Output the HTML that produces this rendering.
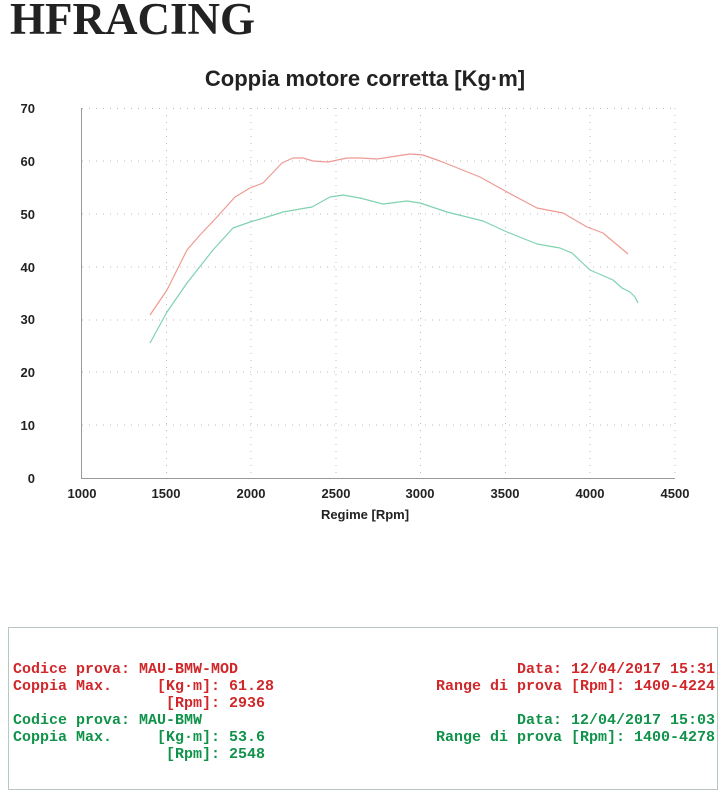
<!DOCTYPE html>
<html><head><meta charset="utf-8"><style>
body{margin:0;width:726px;height:800px;background:#fff;overflow:hidden;position:relative;font-family:"Liberation Sans",sans-serif}
.h{position:absolute;left:10px;top:-7px;font:bold 45px "Liberation Serif",serif;color:#222}
.box{position:absolute;left:8px;top:627px;width:710px;height:163px;border:1px solid #b8c8c0;box-sizing:border-box}
.t{position:absolute;font:bold 15px "Liberation Mono",monospace;white-space:pre;line-height:17px}
.r{color:#d0272a}.g{color:#10924a}
</style></head><body>
<div class="h">HFRACING</div>
<svg width="726" height="600" style="position:absolute;left:0;top:0" font-family="Liberation Sans, sans-serif">
<text x="365" y="86" text-anchor="middle" font-size="22" font-weight="bold" fill="#222">Coppia motore corretta [Kg·m]</text>
<g stroke="#bbb" stroke-dasharray="1,6" stroke-width="1">
<line x1="82" y1="108.5" x2="675" y2="108.5"/><line x1="82" y1="161" x2="675" y2="161"/><line x1="82" y1="214" x2="675" y2="214"/><line x1="82" y1="267" x2="675" y2="267"/><line x1="82" y1="320" x2="675" y2="320"/><line x1="82" y1="372" x2="675" y2="372"/><line x1="82" y1="425" x2="675" y2="425"/>
<line x1="166.5" y1="108" x2="166.5" y2="478"/><line x1="251" y1="108" x2="251" y2="478"/><line x1="336" y1="108" x2="336" y2="478"/><line x1="420.5" y1="108" x2="420.5" y2="478"/><line x1="505.5" y1="108" x2="505.5" y2="478"/><line x1="590" y1="108" x2="590" y2="478"/><line x1="675" y1="108" x2="675" y2="478"/>
</g>
<path d="M81.5 108V478.5H675" fill="none" stroke="#999" stroke-width="1"/>
<g font-size="13" font-weight="bold" fill="#222" text-anchor="end">
<text x="35" y="113">70</text><text x="35" y="166">60</text><text x="35" y="219">50</text><text x="35" y="272">40</text><text x="35" y="324">30</text><text x="35" y="377">20</text><text x="35" y="430">10</text><text x="35" y="483">0</text>
</g>
<g font-size="13" font-weight="bold" fill="#222" text-anchor="middle">
<text x="82" y="498">1000</text><text x="166" y="498">1500</text><text x="251" y="498">2000</text><text x="336" y="498">2500</text><text x="420" y="498">3000</text><text x="505" y="498">3500</text><text x="590" y="498">4000</text><text x="675" y="498">4500</text>
<text x="365" y="519">Regime [Rpm]</text>
</g>
<polyline fill="none" stroke="#ee9a92" stroke-width="1.2" stroke-linejoin="round" points="150,315 167,290 187,250 200,235 217,217 235,197 250,188 263,183 282,163 293,158 303,158 313,161 328,162 347,158 360,158 377,159 410,154 423,155 440,161 480,177 507,192 537,208 563,213 587,227 603,233 628,254"/>
<polyline fill="none" stroke="#7fd2b0" stroke-width="1.2" stroke-linejoin="round" points="150,343 167,312 187,283 213,250 233,228 250,222 267,217 283,212 300,209 312,207 330,197 343,195 360,198 383,204 407,201 420,203 447,212 483,221 507,232 537,244 560,248 572,253 590,270 613,280 622,288 630,292 635,297 638,303"/>
</svg>
<div class="box"></div>
<div class="t r" style="left:13px;top:661px">Codice prova: MAU-BMW-MOD
Coppia Max.     [Kg·m]: 61.28
                 [Rpm]: 2936</div>
<div class="t g" style="left:13px;top:712px">Codice prova: MAU-BMW
Coppia Max.     [Kg·m]: 53.6
                 [Rpm]: 2548</div>
<div class="t r" style="right:11px;top:661px;text-align:right">Data: 12/04/2017 15:31
Range di prova [Rpm]: 1400-4224</div>
<div class="t g" style="right:11px;top:712px;text-align:right">Data: 12/04/2017 15:03
Range di prova [Rpm]: 1400-4278</div>
</body></html>
